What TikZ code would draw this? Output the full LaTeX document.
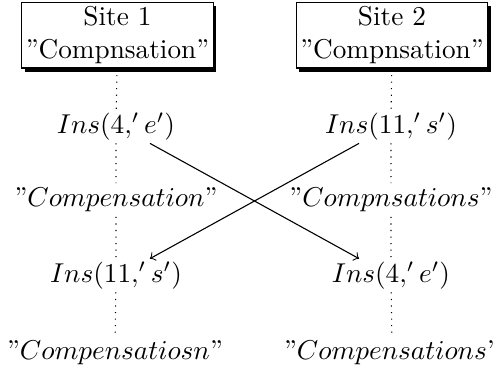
\documentclass[tikz,border=0pt]{standalone}
\usetikzlibrary{shadows,calc}
\newcommand{\myrq}{\mbox{”}}
\begin{document}
\begin{tikzpicture}[x=0.367pt,y=-0.367pt,
  site/.style={draw, fill=white, align=center, inner xsep=1.5pt, inner ysep=1.6pt,
    drop shadow={shadow xshift=1.1pt, shadow yshift=-1.3pt, fill=black, opacity=1}},
  ev/.style={inner sep=1pt, text height=7.5pt, text depth=2.5pt},
  life/.style={dotted},
  msg/.style={->}]
\useasboundingbox (0,0) rectangle (493,367);
\node[site] (s1) at (117.5,35) {Site 1\\”Compnsation”};
\node[site] (s2) at (392,35) {Site 2\\”Compnsation”};
\node[ev] (a1) at (116,126.5) {$Ins(4,'e')$};
\node[ev] (b1) at (116,200) {$\myrq Compensation\myrq$};
\node[ev] (c1) at (116,275.5) {$Ins(11,'s')$};
\node[ev] (d1) at (115,353) {$\myrq Compensatiosn\myrq$};
\node[ev] (a2) at (391,126.5) {$Ins(11,'s')$};
\node[ev] (b2) at (391,200) {$\myrq Compnsations\myrq$};
\node[ev] (c2) at (391,275.5) {$Ins(4,'e')$};
\node[ev] (d2) at (392,353) {$\myrq Compensations\myrq$};
\draw[life] (s1) -- (a1) -- (b1) -- (c1) -- (d1);
\draw[life] (s2) -- (a2) -- (b2) -- (c2) -- (d2);
\draw[msg] ($(a1.south)+(34,0)$) -- ($(c2.north)+(-32,0)$);
\draw[msg] ($(a2.south)+(-32,0)$) -- ($(c1.north)+(34,0)$);
\end{tikzpicture}
\end{document}
